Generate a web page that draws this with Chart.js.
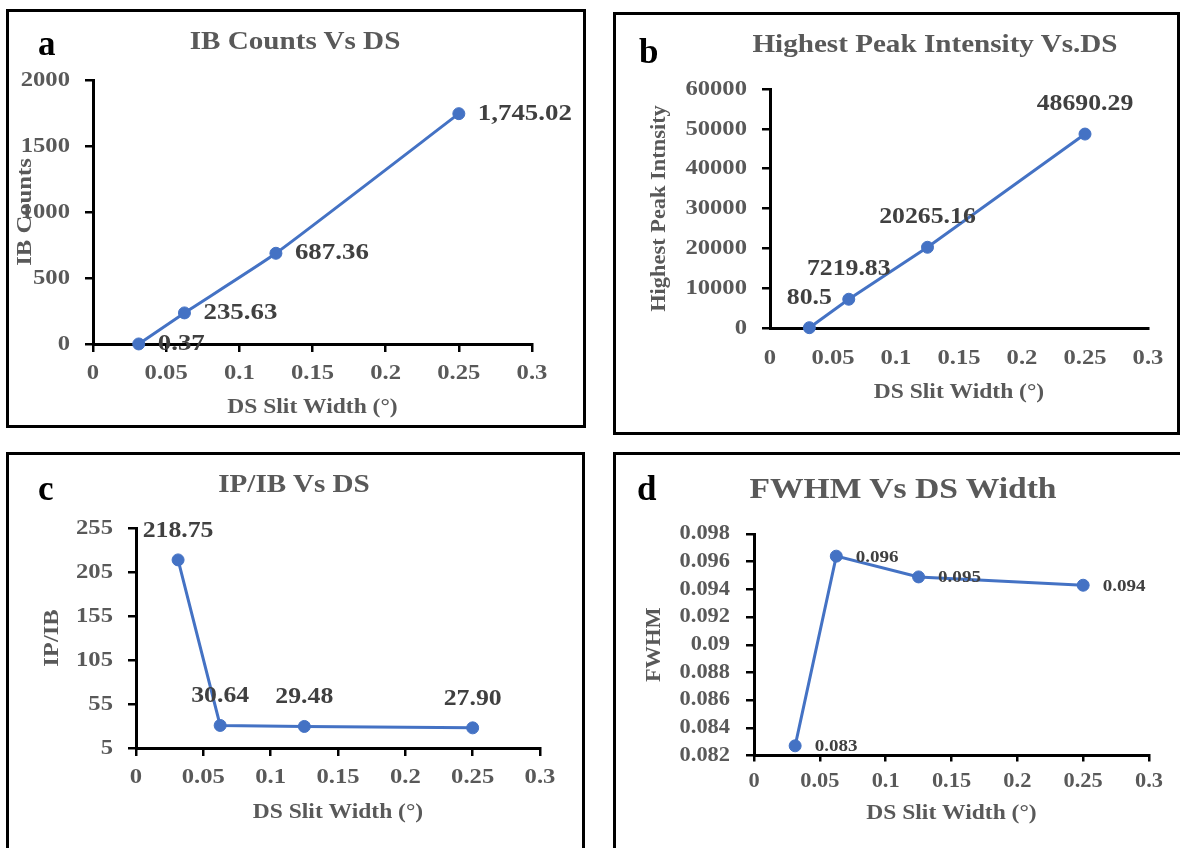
<!DOCTYPE html>
<html>
<head>
<meta charset="utf-8">
<title>DS slit width charts</title>
<script src="https://cdn.jsdelivr.net/npm/chart.js"></script>
<style>
  body { margin: 0; background: #fff; }
  #page { position: relative; width: 1180px; height: 848px; overflow: hidden; background: #fff; }
  canvas { position: absolute; }
  .panel { position: absolute; box-sizing: border-box; border: 3px solid #000; pointer-events: none; }
  .letter { position: absolute; font: bold 35px "Liberation Serif", "Times New Roman", serif; line-height: 1; color: #000; }
  .title { position: absolute; width: 600px; text-align: center; font-family: "Liberation Serif", "Times New Roman", serif;
           font-weight: bold; line-height: 1; color: #595959; transform: scaleX(1.12); white-space: nowrap; }
</style>
</head>
<body>
<div id="page">
  <canvas id="chartA" width="580" height="419" style="left:6px;top:9px"></canvas>
  <canvas id="chartB" width="567" height="423" style="left:613px;top:12px"></canvas>
  <canvas id="chartC" width="579" height="418" style="left:6px;top:452px"></canvas>
  <canvas id="chartD" width="572" height="418" style="left:613px;top:452px"></canvas>

  <div class="panel" style="left:6px;top:9px;width:580px;height:419px"></div>
  <div class="panel" style="left:613px;top:12px;width:567px;height:423px"></div>
  <div class="panel" style="left:6px;top:452px;width:579px;height:418px"></div>
  <div class="panel" style="left:613px;top:452px;width:572px;height:418px"></div>

  <div class="letter" style="left:38px;top:26px">a</div>
  <div class="letter" style="left:639px;top:34px">b</div>
  <div class="letter" style="left:38px;top:471px">c</div>
  <div class="letter" style="left:637px;top:471px">d</div>

  <div class="title" style="left:-5px;top:28px;font-size:26px">IB Counts Vs DS</div>
  <div class="title" style="left:635px;top:31px;font-size:26px">Highest Peak Intensity Vs.DS</div>
  <div class="title" style="left:-6px;top:471px;font-size:26px">IP/IB Vs DS</div>
  <div class="title" style="left:603px;top:473px;font-size:30px">FWHM Vs DS Width</div>
</div>

<script>
// DS slit width (degrees) and the four measured quantities
const dsWidth = [0.03125, 0.0625, 0.125, 0.25];
const ibCounts = [0.37, 235.63, 687.36, 1745.02];
const peakIntensity = [80.5, 7219.83, 20265.16, 48690.29];
const ipIbRatio = [218.75, 30.64, 29.48, 27.90];
const fwhm = [0.0827, 0.0964, 0.0949, 0.0943];

// axis ticks
const xTicks = [0, 0.05, 0.1, 0.15, 0.2, 0.25, 0.3];
const ibTicks = [0, 500, 1000, 1500, 2000];
const peakTicks = [0, 10000, 20000, 30000, 40000, 50000, 60000];
const ratioTicks = [5, 55, 105, 155, 205, 255];
const fwhmTicks = [0.082, 0.084, 0.086, 0.088, 0.09, 0.092, 0.094, 0.096, 0.098];

const BLUE = '#4472C4';
const TEXT_STRETCH = 1.12;

Chart.defaults.font.family = '"Liberation Serif", "Times New Roman", serif';
Chart.defaults.font.weight = 'bold';
Chart.defaults.color = '#595959';

// the original figure has slightly wide lettering
const wideText = {
  id: 'wideText',
  beforeDraw(chart) {
    const ctx = chart.ctx;
    if (ctx.isWide) return;
    const fill = ctx.fillText;
    ctx.fillText = function (t, x, y) {
      this.save();
      this.translate(x, y);
      this.scale(TEXT_STRETCH, 1);
      fill.call(this, t, 0, 0);
      this.restore();
    };
    ctx.isWide = true;
  }
};

// value labels next to / above each point
const pointLabels = {
  id: 'pointLabels',
  afterDatasetsDraw(chart, args, opts) {
    const ctx = chart.ctx;
    const meta = chart.getDatasetMeta(0);
    ctx.save();
    ctx.font = `bold ${opts.size}px "Liberation Serif", serif`;
    ctx.fillStyle = '#404040';
    ctx.textBaseline = 'middle';
    ctx.textAlign = opts.side === 'right' ? 'left' : 'center';
    meta.data.forEach((pt, i) => {
      if (opts.side === 'right') ctx.fillText(opts.labels[i], pt.x + opts.gap, pt.y + (opts.dy || 0));
      else ctx.fillText(opts.labels[i], pt.x, pt.y - opts.gap);
    });
    ctx.restore();
  }
};

function axis(o) {
  return {
    type: 'linear',
    position: o.pos,
    min: o.ticks[0],
    max: o.ticks[o.ticks.length - 1],
    afterBuildTicks: s => { s.ticks = o.ticks.map(v => ({ value: v })); },
    afterFit: s => { if (o.pos === 'left') s.width = o.size; else s.height = o.size; },
    border: { display: true, color: '#000', width: 3 },
    grid: { drawOnChartArea: false, drawTicks: o.tick > 0, tickLength: o.tick, color: '#000', lineWidth: 2.5 },
    ticks: {
      autoSkip: false, maxRotation: 0, padding: o.pad, color: '#595959',
      font: { size: o.font, weight: 'bold' },
      callback: v => String(+v.toFixed(3))
    },
    title: {
      display: true, text: o.title, color: '#595959',
      font: { size: o.titleSize, weight: 'bold' },
      padding: o.titlePad
    }
  };
}

function makeChart(id, c) {
  return new Chart(document.getElementById(id), {
    type: 'scatter',
    data: {
      datasets: [{
        data: dsWidth.map((x, i) => ({ x, y: c.values[i] })),
        showLine: true,
        tension: c.tension || 0,
        clip: false,
        borderColor: BLUE,
        borderWidth: 3,
        pointRadius: 6,
        pointBackgroundColor: BLUE,
        pointBorderColor: BLUE,
        pointBorderWidth: 1
      }]
    },
    options: {
      responsive: false,
      animation: false,
      events: [],
      layout: { padding: c.padding },
      plugins: {
        legend: { display: false },
        tooltip: { enabled: false },
        pointLabels: c.labels
      },
      scales: { x: c.x, y: c.y }
    },
    plugins: [wideText, pointLabels]
  });
}

const xTitle = 'DS Slit Width (°)';

makeChart('chartA', {
  values: ibCounts,
  tension: 0.15,
  padding: { left: 0, right: 54, top: 71, bottom: 0 },
  x: axis({ pos: 'bottom', ticks: xTicks, size: 84, tick: 8, pad: 8, font: 22, title: xTitle, titleSize: 21, titlePad: { top: 0, bottom: 7.4 } }),
  y: axis({ pos: 'left', ticks: ibTicks, size: 87, tick: 8, pad: 15, font: 22, title: 'IB Counts', titleSize: 22, titlePad: { top: 5.8, bottom: 0 } }),
  labels: {
    labels: ibCounts.map(v => v.toLocaleString('en-US', { minimumFractionDigits: 2, maximumFractionDigits: 2 })),
    side: 'right', gap: 19, size: 24
  }
});

makeChart('chartB', {
  values: peakIntensity,
  padding: { left: 0, right: 32, top: 77, bottom: 0 },
  x: axis({ pos: 'bottom', ticks: xTicks, size: 107, tick: 0, pad: 16.8, font: 22, title: xTitle, titleSize: 21, titlePad: { top: 0, bottom: 29.4 } }),
  y: axis({ pos: 'left', ticks: peakTicks, size: 157, tick: 8, pad: 15, font: 22, title: 'Highest Peak Intnsity', titleSize: 20, titlePad: { top: 35, bottom: 0 } }),
  labels: { labels: peakIntensity.map(v => String(v)), side: 'above', gap: 30, size: 23 }
});

makeChart('chartC', {
  values: ipIbRatio,
  padding: { left: 0, right: 45, top: 76, bottom: 42 },
  x: axis({ pos: 'bottom', ticks: xTicks, size: 80, tick: 8, pad: 7.8, font: 22, title: xTitle, titleSize: 21, titlePad: { top: 0, bottom: 2.4 } }),
  y: axis({ pos: 'left', ticks: ratioTicks, size: 130, tick: 8, pad: 15, font: 22, title: 'IP/IB', titleSize: 22, titlePad: { top: 32.8, bottom: 0 } }),
  labels: { labels: ipIbRatio.map(v => v.toFixed(2)), side: 'above', gap: 29, size: 23 }
});

makeChart('chartD', {
  values: fwhm,
  padding: { left: 0, right: 36, top: 82, bottom: 34.5 },
  x: axis({ pos: 'bottom', ticks: xTicks, size: 80, tick: 6, pad: 8.5, font: 20, title: xTitle, titleSize: 21, titlePad: { top: 0, bottom: 8.9 } }),
  y: axis({ pos: 'left', ticks: fwhmTicks, size: 141, tick: 8, pad: 16, font: 20, title: 'FWHM', titleSize: 20, titlePad: { top: 30, bottom: 0 } }),
  labels: { labels: fwhm.map(v => v.toFixed(3)), side: 'right', gap: 19.5, dy: 1, size: 17 }
});
</script>
</body>
</html>
